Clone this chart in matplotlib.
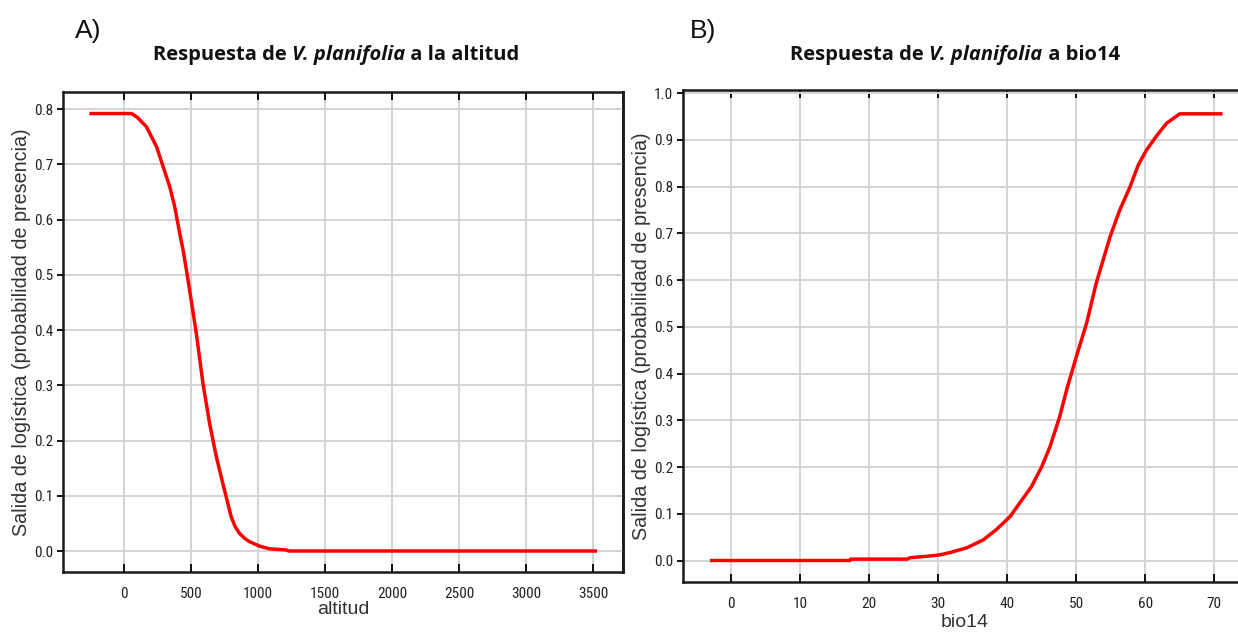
import matplotlib
matplotlib.use("Agg")
import matplotlib.pyplot as plt
from matplotlib import font_manager

# Response curve: altitude
altitud_x = [-258, 57, 100, 168, 243, 292, 342, 379, 416, 441, 472, 540, 589,
             639, 689, 738, 768, 800, 830, 862, 900, 936, 1010, 1085, 1209,
             1230, 3530]
altitud_y = [0.792, 0.792, 0.785, 0.768, 0.732, 0.696, 0.659, 0.623, 0.575,
             0.545, 0.500, 0.394, 0.304, 0.231, 0.171, 0.122, 0.093, 0.062,
             0.044, 0.032, 0.023, 0.017, 0.009, 0.004, 0.002, 0.0, 0.0]

# Response curve: bio14
bio14_x = [-3.1, 17.2, 17.3, 25.5, 25.9, 28.3, 30.2, 31.7, 34.1, 36.5, 38.4,
           40.4, 41.8, 43.5, 45.0, 46.2, 47.6, 48.6, 50.0, 51.5, 52.9, 54.9,
           56.3, 57.8, 59.0, 60.2, 61.7, 63.1, 65.0, 71.2]
bio14_y = [0.0, 0.0, 0.003, 0.003, 0.006, 0.009, 0.012, 0.017, 0.027, 0.044,
           0.066, 0.094, 0.123, 0.158, 0.201, 0.244, 0.308, 0.365, 0.436,
           0.508, 0.594, 0.693, 0.750, 0.800, 0.847, 0.879, 0.910, 0.936,
           0.956, 0.956]

altitud_ticks = [0, 500, 1000, 1500, 2000, 2500, 3000, 3500]
altitud_yticks = [0.0, 0.1, 0.2, 0.3, 0.4, 0.5, 0.6, 0.7, 0.8]
bio14_ticks = [0, 10, 20, 30, 40, 50, 60, 70]
bio14_yticks = [0.0, 0.1, 0.2, 0.3, 0.4, 0.5, 0.6, 0.7, 0.8, 0.9, 1.0]

ylabel = "Salida de logística (probabilidad de presencia)"


def pick(*names):
    avail = {f.name for f in font_manager.fontManager.ttflist}
    for n in names:
        if n in avail:
            return n
    return "DejaVu Sans"


narrow = pick("Liberation Sans Narrow", "Roboto Condensed", "Liberation Sans")
sans = pick("Liberation Sans", "DejaVu Sans")
title_font = pick("Open Sans", "Lato", "DejaVu Sans")

fig = plt.figure(figsize=(12.38, 6.38), dpi=100)
W, H = 1238, 638


def box(x0, y0, x1, y1):
    return [x0 / W, 1 - y1 / H, (x1 - x0) / W, (y1 - y0) / H]


ax1 = fig.add_axes(box(63, 92, 623, 572))
ax2 = fig.add_axes(box(683, 90, 1246, 582))


def style(ax, xt, yt, xlim, ylim, xlabel, xlabelpad):
    ax.set_xlim(*xlim)
    ax.set_ylim(*ylim)
    ax.set_xticks(xt)
    ax.set_yticks(yt)
    ax.set_xticklabels([str(v) for v in xt])
    ax.set_yticklabels([f"{v:.1f}" for v in yt])
    ax.grid(True, color="#d4d4d4", lw=1.4)
    ax.set_axisbelow(True)
    for s in ax.spines.values():
        s.set_linewidth(1.8)
        s.set_color("#1a1a1a")
    ax.tick_params(axis="x", which="both", direction="in", top=True,
                   length=6, width=1.3, pad=11, labelsize=11)
    ax.tick_params(axis="y", which="both", direction="out", left=True,
                   length=4, width=1.3, pad=3, labelsize=11)
    for lab in ax.get_xticklabels() + ax.get_yticklabels():
        lab.set_fontfamily(narrow)
        lab.set_color("#222222")
    ax.set_xlabel(xlabel, fontsize=14, family=sans, labelpad=xlabelpad,
                  color="#333333")
    ax.set_ylabel(ylabel, fontsize=14.2, family=sans, labelpad=2,
                  color="#333333")


style(ax1, altitud_ticks, altitud_yticks, (-455, 3724), (-0.038, 0.831),
      "altitud", 0)
style(ax2, bio14_ticks, bio14_yticks, (-7.0, 74.6), (-0.046, 1.007),
      "bio14", 2)

ax1.plot(altitud_x, altitud_y, color="#ff0000", lw=2.5, solid_capstyle="butt")
ax2.plot(bio14_x, bio14_y, color="#ff0000", lw=2.5, solid_capstyle="butt")

# right-side tick marks pointing inward on the first panel
ax1r = ax1.secondary_yaxis("right")
ax1r.set_yticks(altitud_yticks)
ax1r.tick_params(direction="in", length=5, width=1.3, labelright=False)
ax1r.spines["right"].set_linewidth(1.8)

# panel letters
fig.text(75 / W, 1 - 31 / H, "A)", fontsize=19, family=sans, va="center",
         ha="left", color="#111111")
fig.text(690 / W, 1 - 31 / H, "B)", fontsize=19, family=sans, va="center",
         ha="left", color="#111111")


def mixed_title(cx, cy, parts):
    fig.canvas.draw()
    r = fig.canvas.get_renderer()
    texts = []
    for s, style_ in parts:
        t = fig.text(0, 1 - cy / H, s, fontsize=14.5, family=title_font,
                     weight="bold", style=style_, va="center", ha="left",
                     color="#111111")
        texts.append(t)
    widths = [t.get_window_extent(r).width for t in texts]
    x = cx - sum(widths) / 2
    for t, w in zip(texts, widths):
        t.set_x(x / W)
        x += w


mixed_title(336, 55, [("Respuesta de ", "normal"), ("V. planifolia", "italic"),
                      (" a la altitud", "normal")])
mixed_title(955, 55, [("Respuesta de ", "normal"), ("V. planifolia", "italic"),
                      (" a bio14", "normal")])

fig.savefig("out.png", dpi=100, facecolor="white")
